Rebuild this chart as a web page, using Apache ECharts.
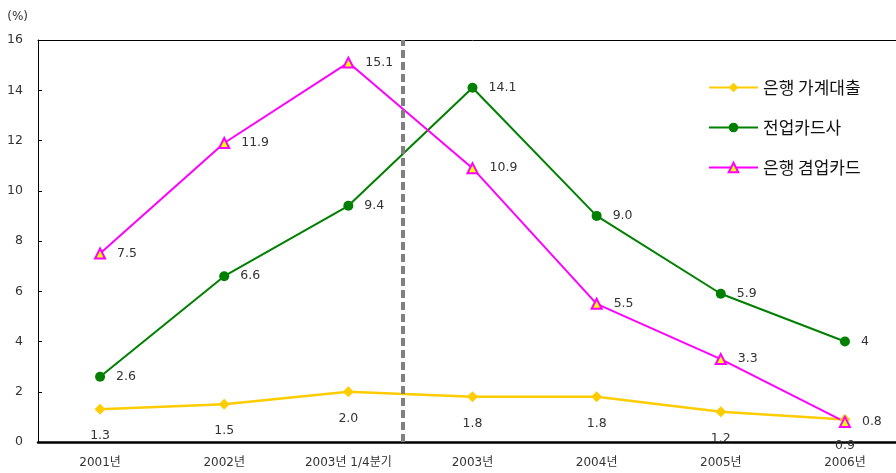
<!DOCTYPE html>
<html>
<head>
<meta charset="utf-8">
<script src="https://cdn.jsdelivr.net/npm/echarts@6/dist/echarts.min.js"></script>
<style>
  html, body { margin: 0; padding: 0; background: #fff; overflow: hidden; }
  /* plot area runs slightly past the right edge of the window */
  #chart { width: 907px; height: 473px; }
</style>
</head>
<body>
<div id="chart"></div>
<script>
// Categories along the horizontal axis
const categories = ['2001년', '2002년', '2003년 1/4분기', '2003년', '2004년', '2005년', '2006년'];

// Series names
const seriesNames = ['은행 가계대출', '전업카드사', '은행 겸업카드'];

// Delinquency rates (%), kept as printed so labels keep their decimals
const bankHousehold = ['1.3', '1.5', '2.0', '1.8', '1.8', '1.2', '0.9'];
const cardCompanies = ['2.6', '6.6', '9.4', '14.1', '9.0', '5.9', '4'];
const bankCard = ['7.5', '11.9', '15.1', '10.9', '5.5', '3.3', '0.8'];

// Y axis range
const yMin = 0, yMax = 16, yStep = 2;

// Position of the dashed divider (in category units, on the hidden value axis)
const DIVIDER_AT = 2.44;

const labelFont = "'DejaVu Sans', 'Noto Sans CJK KR', sans-serif";
const textColor = '#333';

const toNumbers = arr => arr.map(Number);
const printed = arr => p => arr[p.dataIndex];

const chart = echarts.init(document.getElementById('chart'));
chart.setOption({
  animation: false,
  backgroundColor: '#fff',
  grid: { left: 38, top: 40, right: 0, bottom: 31, containLabel: false },
  legend: {
    orient: 'vertical',
    left: 703,
    top: 74,
    itemWidth: 49,
    itemHeight: 12,
    itemGap: 23,
    data: seriesNames,
    textStyle: { fontFamily: "'Noto Sans CJK KR', sans-serif", fontSize: 17, color: '#111' }
  },
  xAxis: [
    {
      type: 'category',
      data: categories,
      boundaryGap: true,
      axisLine: { onZero: false, lineStyle: { color: '#000', width: 2.5 } },
      axisTick: { inside: true, length: 5, lineStyle: { color: '#000', width: 1 } },
      axisLabel: { margin: 15, fontSize: 12, color: textColor, fontFamily: labelFont },
      splitLine: { show: false }
    },
    {
      // hidden value axis used for the top border and the divider line
      type: 'value',
      position: 'top',
      min: -0.5,
      max: 6.5,
      axisLine: { show: true, onZero: false, lineStyle: { color: '#000', width: 1 } },
      axisTick: { show: false },
      axisLabel: { show: false },
      splitLine: { show: false }
    }
  ],
  yAxis: {
    type: 'value',
    min: yMin,
    max: yMax,
    interval: yStep,
    name: '(%)',
    nameLocation: 'end',
    nameGap: 17,
    nameTextStyle: { align: 'right', padding: [0, 10, 0, 0], fontSize: 12, color: textColor, fontFamily: labelFont },
    axisLine: { show: true, onZero: false, lineStyle: { color: '#000', width: 1 } },
    axisTick: { show: true, inside: true, length: 4, lineStyle: { color: '#000' } },
    axisLabel: { margin: 15, fontSize: 12.5, color: textColor, fontFamily: labelFont },
    splitLine: { show: false }
  },
  series: [
    {
      type: 'line',
      xAxisIndex: 1,
      data: [],
      silent: true,
      markLine: {
        silent: true,
        symbol: 'none',
        label: { show: false },
        lineStyle: { color: '#808080', width: 4, type: [8, 4] },
        data: [{ xAxis: DIVIDER_AT }]
      }
    },
    {
      name: seriesNames[0],
      type: 'line',
      data: toNumbers(bankHousehold),
      symbol: 'diamond',
      symbolSize: 11,
      lineStyle: { color: '#FFCC00', width: 2.5 },
      itemStyle: { color: '#FFCC00' },
      label: {
        show: true, position: 'bottom', distance: 15,
        fontSize: 12.5, color: textColor, fontFamily: labelFont,
        formatter: printed(bankHousehold)
      }
    },
    {
      name: seriesNames[1],
      type: 'line',
      data: toNumbers(cardCompanies),
      symbol: 'circle',
      symbolSize: 10,
      lineStyle: { color: '#008000', width: 2 },
      itemStyle: { color: '#008000' },
      label: {
        show: true, position: 'right', distance: 11,
        fontSize: 12.5, color: textColor, fontFamily: labelFont,
        formatter: printed(cardCompanies)
      }
    },
    {
      name: seriesNames[2],
      type: 'line',
      data: toNumbers(bankCard),
      symbol: 'triangle',
      symbolSize: 10,
      lineStyle: { color: '#FF00FF', width: 2 },
      itemStyle: { color: '#FFFF00', borderColor: '#FF00FF', borderWidth: 2 },
      label: {
        show: true, position: 'right', distance: 11,
        fontSize: 12.5, color: textColor, fontFamily: labelFont,
        formatter: printed(bankCard)
      }
    }
  ]
});
</script>
</body>
</html>
